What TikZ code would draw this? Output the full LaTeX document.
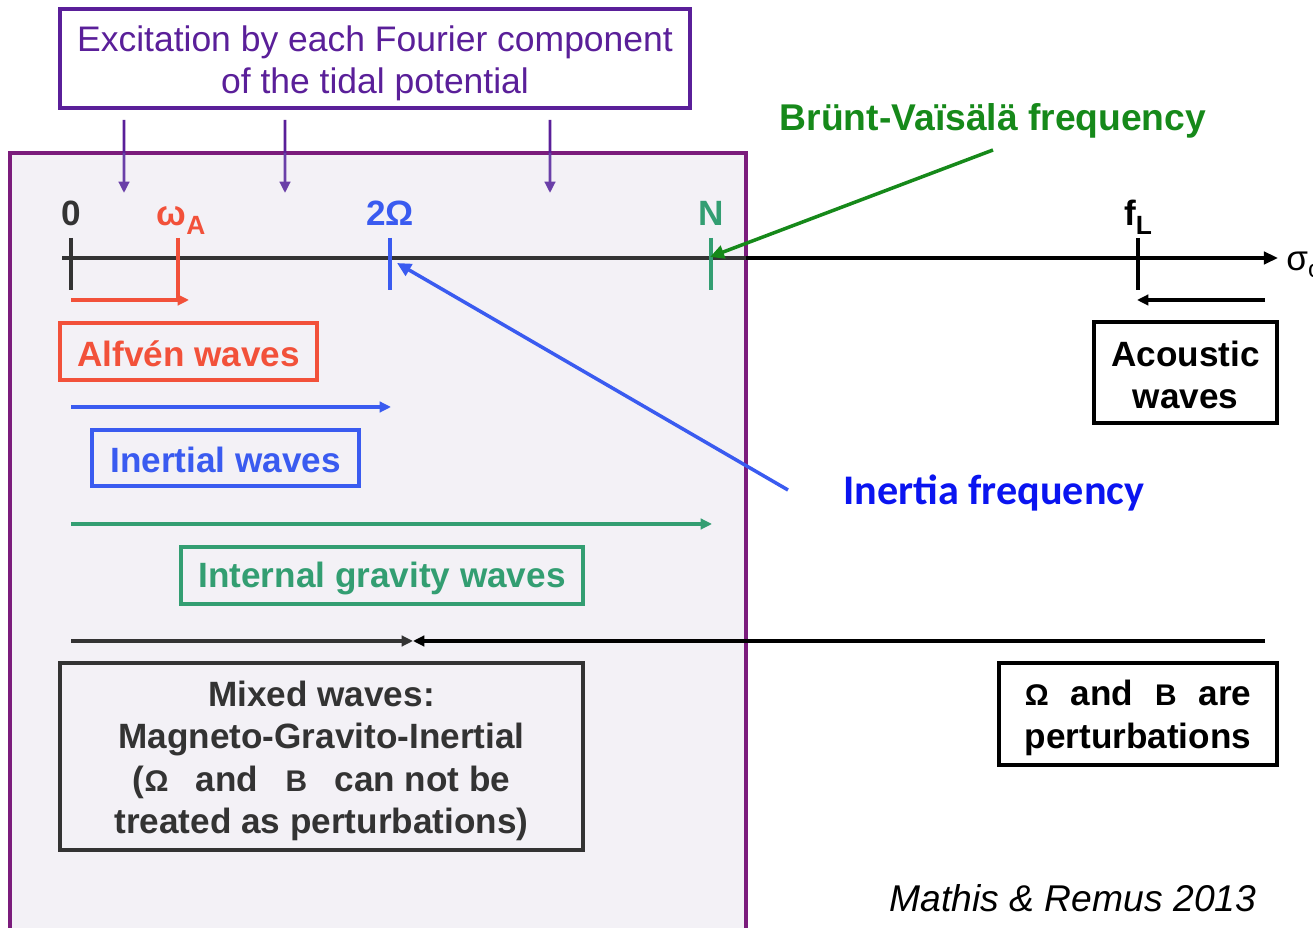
\documentclass[tikz,border=0pt]{standalone}
\usepackage{fontspec}
\usepackage{calc}
\setmainfont{Liberation Sans}
\newfontfamily\calibri{Carlito}
\usetikzlibrary{arrows.meta,calc}
\definecolor{boxpurple}{HTML}{7B1C7C}
\definecolor{boxfill}{HTML}{F3F1F6}
\definecolor{toppurple}{HTML}{5A1F99}
\definecolor{arrpurple}{HTML}{6A3FA8}
\definecolor{wred}{HTML}{F2513A}
\definecolor{wblue}{HTML}{3A5BF0}
\definecolor{wgreen}{HTML}{339E72}
\definecolor{bvgreen}{HTML}{16891A}
\definecolor{ifblue}{HTML}{0A14F0}
\definecolor{dgray}{HTML}{333333}
\tikzset{
  tip/.style={-{Triangle[length=6.5pt,width=6pt]}},
  bfont/.style={font=\fontsize{20}{24.2}\selectfont\bfseries},
  wavebox/.style={draw, line width=2pt, inner sep=0pt},
  wtext/.style={inner sep=0pt, align=center, bfont},
  ticks/.style={line width=2pt},
  rng/.style={line width=2pt, tip},
  lbl/.style={bfont, inner sep=0pt, anchor=base}
}
\newcommand{\sm}[1]{{\fontsize{17}{17}\selectfont #1}}
\begin{document}
\begin{tikzpicture}[x=0.02cm,y=-0.02cm]
\useasboundingbox (0,0) rectangle (1313,928);
% big box
\draw[boxpurple, line width=2.4pt, fill=boxfill] (10,153) rectangle (746,960);
% top box
\node[draw=toppurple, line width=2pt, minimum width=12.6cm, minimum height=1.98cm, inner sep=0pt] (top) at (375,58.5) {};
\node[text=toppurple, inner sep=0pt, align=center, font=\fontsize{20.2}{24}\selectfont] (toptext) at (375,63) {Excitation by each Fourier component\\of the tidal potential};
% excitation arrows
\coordinate (e1s) at (124,120); \coordinate (e1e) at (124,193);
\coordinate (e2s) at (285,120); \coordinate (e2e) at (285,193);
\coordinate (e3s) at (550,120); \coordinate (e3e) at (550,193);
\foreach \a in {1,2,3} {
  \draw[toppurple, line width=1.7pt] (e\a s) -- ($(e\a s)!0.47!(e\a e)$);
  \draw[arrpurple, line width=1.7pt, tip] ($(e\a s)!0.45!(e\a e)$) -- (e\a e);
}
% axis
\coordinate (ax0) at (62,258); \coordinate (axm) at (746,258); \coordinate (ax1) at (1278,258);
\draw[dgray, line width=2pt] (ax0) -- (axm);
\draw[black, line width=2pt, -{Triangle[length=8pt,width=7pt]}] (axm) -- (ax1);
\node[font=\fontsize{20}{20}\selectfont, anchor=west, inner sep=0pt] (sigma) at (1286,265) {σ\raisebox{-0.35ex}{\fontsize{14}{14}\selectfont o}};
% ticks
\coordinate (t0a) at (71,238); \coordinate (t0b) at (71,290);
\coordinate (tAa) at (178,238); \coordinate (tAb) at (178,300);
\coordinate (tOa) at (390,238); \coordinate (tOb) at (390,290);
\coordinate (tNa) at (711,238); \coordinate (tNb) at (711,290);
\coordinate (tLa) at (1138,238); \coordinate (tLb) at (1138,290);
\draw[ticks, dgray] (t0a) -- (t0b);
\draw[ticks, wred] (tAa) -- (tAb);
\draw[ticks, wblue] (tOa) -- (tOb);
\draw[ticks, wgreen] (tNa) -- (tNb);
\draw[ticks, black] (tLa) -- (tLb);
% tick labels
\node[lbl, text=dgray] (l0) at (71,226) {0};
\node[lbl, text=wred] (lA) at (181,226) {ω\raisebox{-0.45ex}{\fontsize{15}{15}\selectfont A}};
\node[lbl, text=wblue] (lO) at (390,226) {2Ω};
\node[lbl, text=wgreen] (lN) at (711,226) {N};
\node[lbl, text=black] (lL) at (1138,226) {f\raisebox{-0.45ex}{\fontsize{15}{15}\selectfont L}};
% range arrows
\coordinate (r0) at (71,300); \coordinate (r1) at (189,300);
\draw[wred, rng] (r0) -- (r1);
\coordinate (b0) at (71,407); \coordinate (b1) at (391,407);
\draw[wblue, rng] (b0) -- (b1);
\coordinate (g0) at (71,524); \coordinate (g1) at (712,524);
\draw[wgreen, rng] (g0) -- (g1);
\coordinate (m0) at (71,641); \coordinate (mm) at (413,641); \coordinate (m1) at (1265,641);
\draw[dgray, rng] (m0) -- (mm);
\draw[black, rng] (m1) -- (mm);
\coordinate (a0) at (1265,300); \coordinate (a1) at (1137,300);
\draw[black, rng] (a0) -- (a1);
% wave boxes
\node[wavebox, draw=wred, minimum width=5.14cm, minimum height=1.14cm] (alf) at (188.5,351.5) {};
\node[wtext, text=wred] (alft) at (188.5,354) {Alfvén waves};
\node[wavebox, draw=wblue, minimum width=5.34cm, minimum height=1.12cm] (inw) at (225.5,458) {};
\node[wtext, text=wblue] (inwt) at (225.5,460) {Inertial waves};
\node[wavebox, draw=wgreen, minimum width=8.04cm, minimum height=1.14cm] (igw) at (382,575.5) {};
\node[wtext, text=wgreen] (igwt) at (382,578) {Internal gravity waves};
\node[wavebox, draw=dgray, minimum width=10.46cm, minimum height=3.74cm] (mix) at (321.5,756.5) {};
\node[wtext, text=dgray] (mixt) at (321.5,761)
  {Mixed waves:\\Magneto-Gravito-Inertial\\(\sm{Ω}\hspace{0.5em} and\hspace{0.5em} \sm{B}\hspace{0.5em} can not be\\treated as perturbations)};
\node[wavebox, draw=black, minimum width=3.66cm, minimum height=2.02cm] (ac) at (1185.5,372.5) {};
\node[wtext, text=black] (act) at (1185.5,375) {Acoustic\\waves};
\node[wavebox, draw=black, minimum width=5.56cm, minimum height=2.04cm] (pert) at (1138,714) {};
\node[wtext, text=black] (pertt) at (1138,718)
  {\makebox[\widthof{perturbations}][s]{\sm{Ω}\hfill and\hfill \sm{B}\hfill are}\\perturbations};
% annotations
\node[font=\fontsize{21.2}{24}\selectfont\bfseries, text=bvgreen, inner sep=0pt] (bv) at (993,121) {Brünt-Vaïsälä frequency};
\coordinate (bvs) at (993,150); \coordinate (bve) at (710,257);
\draw[bvgreen, line width=2pt, -{Triangle[length=8pt,width=7.5pt]}] (bvs) -- (bve);
\node[font=\fontsize{24}{28}\calibri\bfseries, text=ifblue, inner sep=0pt] (inf) at (994,493) {Inertia frequency};
\coordinate (ifs) at (788,490); \coordinate (ife) at (397,263);
\draw[wblue, line width=2pt, -{Triangle[length=8pt,width=7.5pt]}] (ifs) -- (ife);
\node[font=\fontsize{21.2}{24}\selectfont\itshape, inner sep=0pt] (cite) at (1073,898) {Mathis \& Remus 2013};
\end{tikzpicture}
\end{document}
